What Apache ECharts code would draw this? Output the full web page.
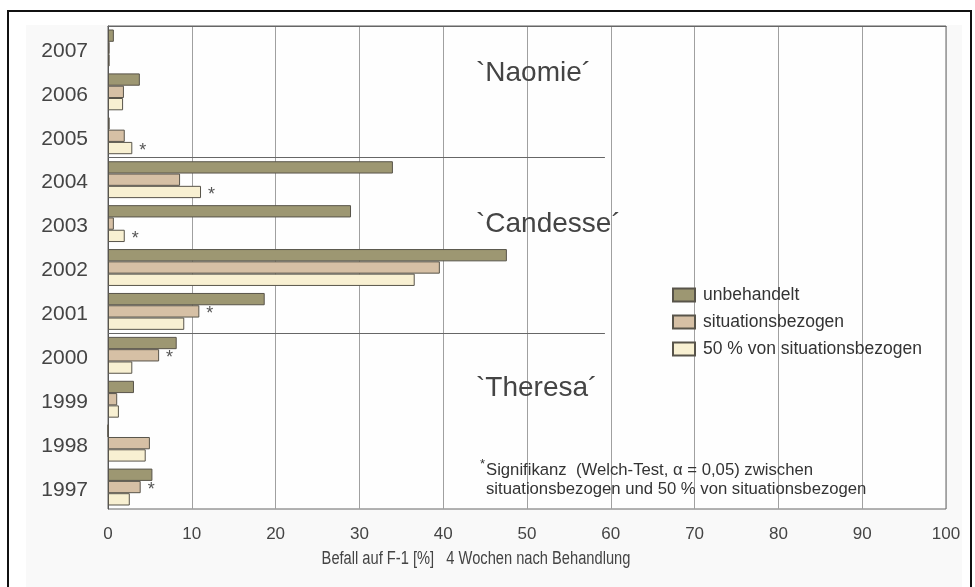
<!DOCTYPE html>
<html>
<head>
<meta charset="utf-8">
<title>Befall auf F-1</title>
<script src="https://cdn.jsdelivr.net/npm/echarts@6/dist/echarts.min.js"></script>
<style>
  html, body { margin: 0; padding: 0; background: #ffffff; }
  #chart { width: 975px; height: 587px; }
</style>
</head>
<body>
<div id="chart"></div>
<script>
// Jahre (von oben nach unten)
const years = ['2007', '2006', '2005', '2004', '2003', '2002', '2001', '2000', '1999', '1998', '1997'];

// Befall auf F-1 [%], 4 Wochen nach Behandlung
const unbehandelt       = [0.7, 3.8, 0.2, 34.0, 29.0, 47.6, 18.7, 8.2, 3.1, 0.0, 5.3];
const situationsbezogen = [0.2, 1.9, 2.0, 8.6, 0.7, 39.6, 10.9, 6.1, 1.1, 5.0, 3.9];
const halbeDosis        = [0.2, 1.8, 2.9, 11.1, 2.0, 36.6, 9.1, 2.9, 1.3, 4.5, 2.6];

// Jahre mit signifikantem Unterschied zwischen den beiden Behandlungsvarianten
const signifikant = ['2005', '2004', '2003', '2001', '2000', '1997'];

// Sortennamen je Versuchsabschnitt
const sorten = ['`Naomie´', '`Candesse´', '`Theresa´'];

const xTicks = [0, 10, 20, 30, 40, 50, 60, 70, 80, 90, 100];
const seriesNames = ['unbehandelt', 'situationsbezogen', '50 % von situationsbezogen'];
const xTitle = 'Befall auf F-1 [%]   4 Wochen nach Behandlung';
const fussnote = 'Signifikanz  (Welch-Test, α = 0,05) zwischen\nsituationsbezogen und 50 % von situationsbezogen';

const FONT = '"Liberation Sans", Arial, Helvetica, sans-serif';
const TEXT = '#444444';

// Stern an den jeweils längeren der beiden behandelten Balken hängen
function withStars(values, other) {
  return values.map((v, i) => {
    const sig = signifikant.indexOf(years[i]) >= 0;
    if (sig && v >= other[i]) {
      return {
        value: v,
        label: {
          show: true, position: 'right', distance: 7, formatter: '*',
          fontFamily: FONT, fontSize: 18, color: '#555', offset: [0, 3]
        }
      };
    }
    return v;
  });
}

const barBorder = { borderColor: '#58544a', borderWidth: 1 };

const chart = echarts.init(document.getElementById('chart'), null, { renderer: 'canvas' });

chart.setOption({
  animation: false,
  backgroundColor: '#ffffff',
  textStyle: { fontFamily: FONT },
  grid: {
    left: 108, right: 29, top: 26, bottom: 78,
    show: true, backgroundColor: '#fefefe', borderColor: '#666666', borderWidth: 1
  },
  legend: {
    data: seriesNames,
    orient: 'vertical',
    left: 667, top: 281,
    itemWidth: 22, itemHeight: 13, itemGap: 9,
    icon: 'rect',
    textStyle: { fontFamily: FONT, fontSize: 17.5, color: '#333', padding: [0, 0, 0, 3] }
  },
  xAxis: {
    type: 'value',
    min: xTicks[0], max: xTicks[xTicks.length - 1], interval: 10,
    axisLine: { show: true, lineStyle: { color: '#666666', width: 1 } },
    axisTick: { show: false },
    axisLabel: { fontFamily: FONT, fontSize: 17, color: TEXT, margin: 17 },
    splitLine: { show: true, lineStyle: { color: '#a0a0a0', width: 1 } }
  },
  yAxis: [{
    type: 'category',
    data: years,
    inverse: true,
    axisLine: { show: true, lineStyle: { color: '#555555', width: 1 } },
    axisTick: { show: false },
    axisLabel: {
      margin: 20,
      formatter: '{j|{value}}',
      rich: { j: { fontFamily: FONT, fontSize: 21, color: TEXT, padding: [6, 0, 0, 0] } }
    },
    splitLine: { show: false }
  }, {
    // Hilfsachse für die Trennlinien zwischen den Versuchsabschnitten
    type: 'value', min: 0, max: years.length, inverse: true, show: false
  }],
  series: [
    {
      name: seriesNames[0], type: 'bar', data: unbehandelt,
      barCategoryGap: '16%', barGap: '0%',
      itemStyle: Object.assign({ color: '#9d9772' }, barBorder)
    },
    {
      name: seriesNames[1], type: 'bar', data: withStars(situationsbezogen, halbeDosis),
      barCategoryGap: '16%', barGap: '0%',
      itemStyle: Object.assign({ color: '#d6c0a5' }, barBorder)
    },
    {
      name: seriesNames[2], type: 'bar', data: withStars(halbeDosis, situationsbezogen),
      barCategoryGap: '16%', barGap: '0%',
      itemStyle: Object.assign({ color: '#f8f0d2' }, barBorder)
    },
    {
      // Trennlinien: nach 2005 und nach 2001
      type: 'line', yAxisIndex: 1, data: [], silent: true,
      markLine: {
        silent: true, symbol: 'none', label: { show: false },
        lineStyle: { color: '#666666', width: 1, type: 'solid' },
        data: [
          [{ coord: [0, years.indexOf('2005') + 1] }, { coord: [59.3, years.indexOf('2005') + 1] }],
          [{ coord: [0, years.indexOf('2001') + 1] }, { coord: [59.3, years.indexOf('2001') + 1] }]
        ]
      }
    }
  ],
  graphic: [
    {
      type: 'rect', z: -10, silent: true,
      shape: { x: 26, y: 25, width: 936, height: 562 },
      style: { fill: '#f9f9f9' }
    },
    {
      type: 'rect', z: 100, silent: true,
      shape: { x: 8, y: 11, width: 963, height: 600 },
      style: { fill: 'none', stroke: '#111111', lineWidth: 2 }
    },
    {
      type: 'text', left: 476, top: 59, z: 50,
      style: { text: sorten[0], font: '28px ' + FONT, fill: TEXT }
    },
    {
      type: 'text', left: 476, top: 210, z: 50,
      style: { text: sorten[1], font: '28px ' + FONT, fill: TEXT }
    },
    {
      type: 'text', left: 476, top: 374, z: 50,
      style: { text: sorten[2], font: '28px ' + FONT, fill: TEXT }
    },
    {
      // Achsentitel, leicht schmal laufend
      type: 'text', x: 476, y: 559, z: 50, scaleX: 0.815,
      style: { text: xTitle, font: '18px ' + FONT, fill: TEXT, align: 'center', verticalAlign: 'middle' }
    },
    {
      type: 'text', left: 480, top: 458, z: 50,
      style: { text: '*', font: '13px ' + FONT, fill: '#333' }
    },
    {
      type: 'text', left: 486, top: 461, z: 50,
      style: { text: fussnote, font: '16.7px ' + FONT, fill: '#333', lineHeight: 19 }
    }
  ]
});
</script>
</body>
</html>
